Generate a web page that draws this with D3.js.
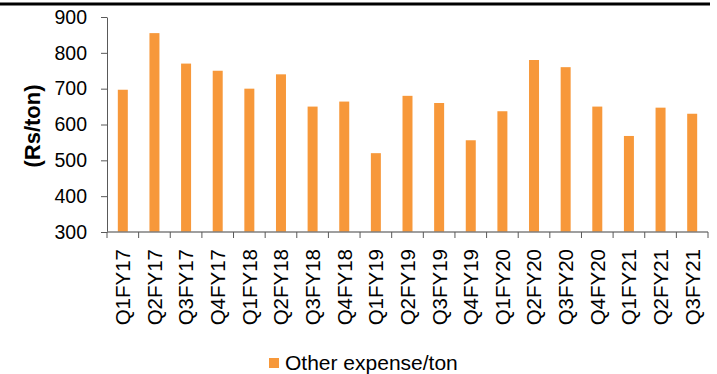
<!DOCTYPE html>
<html lang="en">
<head>
  <meta charset="utf-8">
  <title>Other expense/ton</title>
  <script src="https://d3js.org/d3.v7.min.js"></script>
<style>
body{
  margin:0px;
  background-color:#fff;
  font-family:"Liberation Sans", Arial, sans-serif;
  overflow:hidden;
}
</style>
</head>
<body>
  <svg width="717" height="374"></svg>

  <script>

    // quarter labels
    var quarters = ["Q1FY17","Q2FY17","Q3FY17","Q4FY17",
                    "Q1FY18","Q2FY18","Q3FY18","Q4FY18",
                    "Q1FY19","Q2FY19","Q3FY19","Q4FY19",
                    "Q1FY20","Q2FY20","Q3FY20","Q4FY20",
                    "Q1FY21","Q2FY21","Q3FY21"]

    // Rs/ton
    var otherExpense = [697,855,770,750,700,740,650,664,
                        520,680,660,556,637,780,760,650,
                        568,647,630]

    var yTicks = [300,400,500,600,700,800,900]
    var seriesName = "Other expense/ton"
    var barColor = "#f7983a"
    var axisColor = "#7f7f7f"

    var svg = d3.select("svg")

    var x = d3.scaleBand()
        .domain(quarters)
        .range([107, 708])
        .paddingInner(0.684)
        .paddingOuter(0.342)

    var y = d3.scaleLinear()
        .domain([300, 900])
        .range([232, 17])

    // black rule on top
    svg.append("line")
        .attr("x1", 0).attr("x2", 710)
        .attr("y1", 4).attr("y2", 4)
        .attr("stroke", "#000")
        .attr("stroke-width", 3)

    // bars
    svg.selectAll(".bar")
      .data(otherExpense)
      .enter()
        .append("rect")
          .attr("class", "bar")
          .attr("x", function(d, i) { return x(quarters[i]); })
          .attr("y", function(d) { return y(d); })
          .attr("width", x.bandwidth())
          .attr("height", function(d) { return y(300) - y(d); })
          .attr("fill", barColor)

    // y axis
    var yAxis = svg.append("g")
        .attr("transform", "translate(107,0)")
        .call(d3.axisLeft(y).tickValues(yTicks).tickSize(6).tickPadding(14).tickSizeOuter(0))

    yAxis.select(".domain").attr("stroke", "#595959")
    yAxis.selectAll(".tick line").attr("stroke", "#595959")
    yAxis.selectAll(".tick text")
        .attr("fill", "#000")
        .style("font-family", "'Liberation Sans', Arial, sans-serif")
        .style("font-size", "19.5px")

    // x axis line and ticks between bands
    var xg = svg.append("g")
    xg.append("line")
        .attr("x1", 107).attr("x2", 708)
        .attr("y1", y(300)).attr("y2", y(300))
        .attr("stroke", axisColor)
        .attr("stroke-width", 1.5)

    var bounds = quarters.map(function(q) { return x(q) - x.step() * x.paddingInner() / 2; })
    bounds.push(708)
    bounds[0] = 107

    xg.selectAll(".xtick")
      .data(bounds)
      .enter()
        .append("line")
          .attr("class", "xtick")
          .attr("x1", function(d) { return d; })
          .attr("x2", function(d) { return d; })
          .attr("y1", y(300))
          .attr("y2", y(300) + 6)
          .attr("stroke", "#595959")

    xg.selectAll(".xlabel")
      .data(quarters)
      .enter()
        .append("text")
          .attr("class", "xlabel")
          .attr("transform", function(d) { return "translate(" + (x(d) + x.bandwidth() / 2) + ",249) rotate(-90)"; })
          .attr("dy", "0.36em")
          .attr("text-anchor", "end")
          .style("font-size", "20.5px")
          .text(function(d) { return d; })

    // y axis title
    svg.append("text")
        .attr("transform", "translate(32,126) rotate(-90)")
        .attr("dy", "0.36em")
        .attr("text-anchor", "middle")
        .style("font-size", "22px")
        .style("font-weight", "bold")
        .text("(Rs/ton)")

    // legend
    var legend = svg.append("g")
    legend.append("rect")
        .attr("x", 269).attr("y", 358)
        .attr("width", 10).attr("height", 10)
        .attr("fill", barColor)
    legend.append("text")
        .attr("x", 285).attr("y", 370)
        .style("font-size", "21px")
        .text(seriesName)

  </script>
</body>
</html>
